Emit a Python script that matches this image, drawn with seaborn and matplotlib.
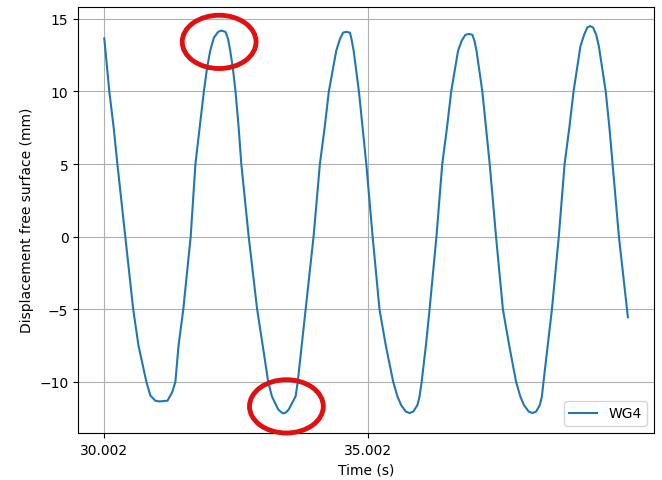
import pandas as pd
import matplotlib.pyplot as plt
import seaborn as sns
from matplotlib.patches import Ellipse

# wave gauge WG4 readings
time_s = [30.002, 30.097, 30.18, 30.25, 30.40, 30.55, 30.65, 30.80, 30.875, 30.97,
          31.05, 31.20, 31.29, 31.35, 31.41, 31.50, 31.64, 31.73, 31.81, 31.89,
          31.95, 32.01, 32.08, 32.16, 32.22, 32.30, 32.35, 32.39, 32.44, 32.49,
          32.55, 32.60, 32.74, 32.90, 33.006, 33.11, 33.18, 33.30, 33.36, 33.40,
          33.45, 33.50, 33.63, 33.67, 33.745, 33.82, 33.97, 34.09, 34.18, 34.26,
          34.40, 34.47, 34.53, 34.59, 34.66, 34.69, 34.73, 34.83, 34.90, 34.97,
          35.09, 35.22, 35.34, 35.48, 35.56, 35.63, 35.72, 35.79, 35.86, 35.94,
          35.98, 36.02, 36.10, 36.17, 36.30, 36.41, 36.50, 36.58, 36.71, 36.78,
          36.85, 36.92, 36.98, 37.02, 37.06, 37.17, 37.24, 37.31, 37.43, 37.56,
          37.68, 37.81, 37.89, 37.96, 38.05, 38.12, 38.19, 38.26, 38.30, 38.33,
          38.41, 38.49, 38.62, 38.73, 38.82, 38.90, 39.03, 39.10, 39.16, 39.21,
          39.27, 39.33, 39.38, 39.51, 39.58, 39.64, 39.76, 39.93]
wg4_mm = [13.65, 10.0, 7.5, 5.0, 0.0, -5.0, -7.5, -10.0, -10.94, -11.3,
          -11.35, -11.3, -10.71, -10.0, -7.5, -5.0, 0.0, 5.0, 7.5, 10.0,
          11.6, 12.8, 13.7, 14.1, 14.19, 14.1, 13.6, 12.8, 11.6, 10.0,
          7.5, 5.0, 0.0, -5.0, -7.5, -10.0, -11.0, -11.9, -12.1, -12.18,
          -12.1, -11.9, -11.0, -10.0, -7.5, -5.0, 0.0, 5.0, 7.5, 10.0,
          12.8, 13.6, 14.05, 14.1, 14.05, 13.6, 12.8, 10.0, 7.5, 5.0,
          0.0, -5.0, -7.5, -10.0, -11.0, -11.6, -12.05, -12.15, -12.05, -11.6,
          -11.0, -10.0, -7.5, -5.0, 0.0, 5.0, 7.5, 10.0, 12.8, 13.5,
          13.9, 13.96, 13.9, 13.5, 12.8, 10.0, 7.5, 5.0, 0.0, -5.0,
          -7.5, -10.0, -11.0, -11.6, -12.05, -12.15, -12.05, -11.6, -11.0, -10.0,
          -7.5, -5.0, 0.0, 5.0, 7.5, 10.0, 13.1, 13.9, 14.4, 14.5,
          14.4, 13.9, 13.1, 10.0, 7.5, 5.0, 0.0, -5.55]
xtick_vals = [30.002, 35.002]
xtick_labels = ['30.002', '35.002']

# highlighted crest and trough (centre t, centre y)
highlights = [(32.18, 13.41), (33.455, -11.69)]

df = pd.DataFrame({'time': time_s, 'eta': wg4_mm})

fig = plt.figure(figsize=(6.62, 4.81), dpi=100)
ax = fig.add_axes([0.118, 0.098, 0.870, 0.886])

sns.lineplot(data=df, x='time', y='eta', ax=ax, color='tab:blue', linewidth=1.5,
             label='WG4', sort=False)

ax.set_xticks(xtick_vals)
ax.set_xticklabels(xtick_labels)
ax.set_yticks([-10, -5, 0, 5, 10, 15])
ax.grid(True)
ax.set_xlabel('Time (s)')
ax.set_ylabel('Displacement free surface (mm)')
ax.legend(loc='lower right')

for cx, cy in highlights:
    ax.add_patch(Ellipse((cx, cy), 1.40, 3.67, fill=False, edgecolor='#e01010',
                         linewidth=3.5, clip_on=False, zorder=5))

plt.savefig('out.png', dpi=100)
